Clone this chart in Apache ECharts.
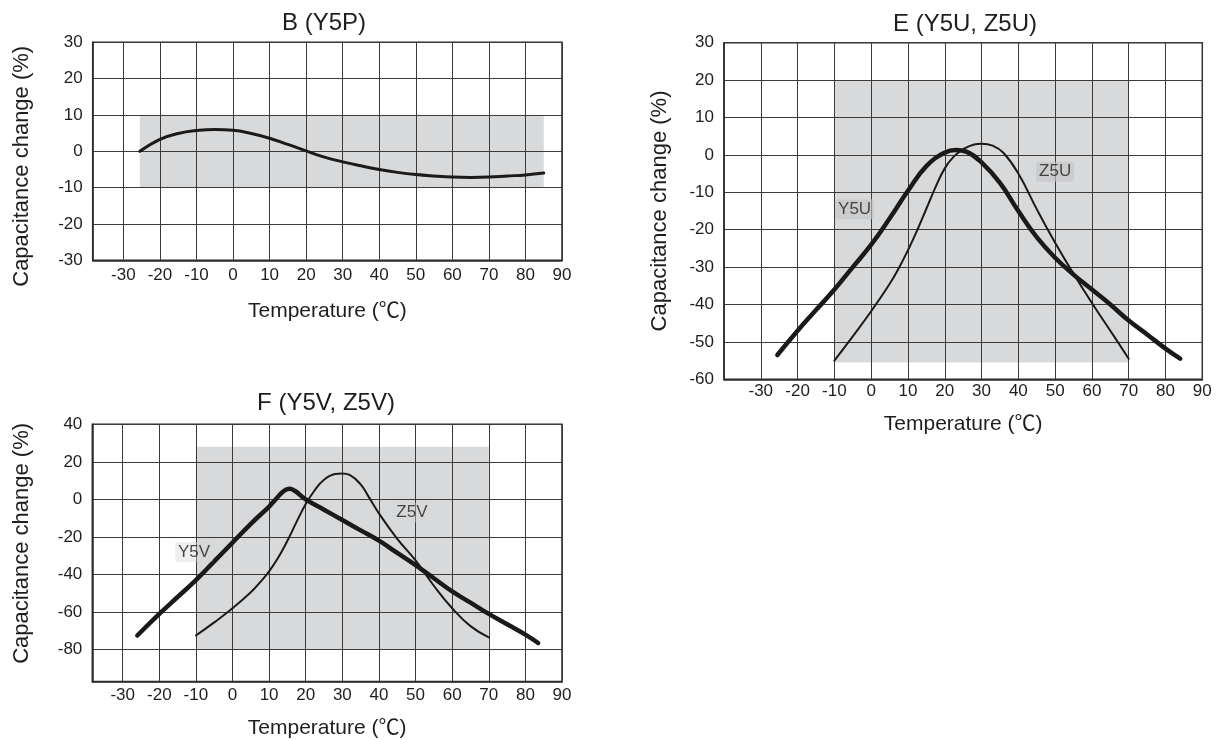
<!DOCTYPE html>
<html><head><meta charset="utf-8">
<script src="https://cdn.jsdelivr.net/npm/echarts@6/dist/echarts.min.js"></script>
<style>html,body{margin:0;padding:0;background:#fff}#c{width:1224px;height:740px}</style>
</head><body><div id="c"></div>
<script>
// ---- tick labels ----
const tempTicks = [-30,-20,-10,0,10,20,30,40,50,60,70,80,90];
const capTicksB = [-30,-20,-10,0,10,20,30];
const capTicksE = [-60,-50,-40,-30,-20,-10,0,10,20,30];
const capTicksF = [-80,-60,-40,-20,0,20,40];

// ---- B (Y5P) ----
const bTemp = [-25.5,-20,-15,-10,-5,0,5,10,15,20,25,30,35,40,45,50,55,60,65,70,75,80,85];
const bCap  = [0,3.3,4.9,5.7,6.0,5.8,4.9,3.6,1.9,0.1,-1.6,-2.9,-4.0,-5.0,-5.8,-6.4,-6.8,-7.1,-7.2,-7.1,-6.8,-6.5,-6.0];
const bandBTemp = [-25.5, 85];
const bandBCap  = [-10, 10];

// ---- E (Y5U, Z5U) ----
const eY5UTemp = [-25.5,-20,-15,-10,-5,0,5,10,15,20,23,26,30,35,40,45,50,55,60,65,70,75,80,84];
const eY5UCap  = [-53.5,-47,-41.5,-36,-30,-24,-17,-9.6,-3,0.6,1.3,0.8,-2,-7.5,-15,-22,-27.5,-32,-36,-40,-44.3,-48,-51.8,-54.5];
const eZ5UTemp = [-10,-5,0,5,7.5,10,12.5,15,17.5,20,22.5,25,28,30,33,36,40,45,50,55,60,65,70];
const eZ5UCap  = [-55,-48.5,-41.8,-34.5,-30.3,-25.5,-20.2,-14.4,-8.6,-3.6,-0.4,1.5,2.8,3,2.5,0.5,-5,-14.5,-23.5,-31.8,-39.6,-47,-54.5];
const bandETemp = [-10, 70];
const bandECap  = [-55.5, 20];
const eLabelNames = ['Y5U','Z5U'];
const eLabelTemp  = [-4.5, 50];
const eLabelCap   = [-14.5, -4.5];

// ---- F (Y5V, Z5V) ----
const fY5VTemp = [-26,-20,-15,-10,-5,0,5,10,12,14,15.5,17,20,25,30,35,40,45,50,55,60,65,70,75,80,83.5];
const fY5VCap  = [-72.5,-61,-52,-43,-33,-23,-13,-3.8,0.5,4.5,5.7,4.6,0,-5.5,-11,-16.5,-22,-28.5,-35,-42,-49,-55,-61,-66.5,-72,-76.5];
const fZ5VTemp = [-10,-5,0,5,7.5,10,12.5,15,17.5,20,22.5,25,28,30,32,35,37,40,45,50,55,60,65,70];
const fZ5VCap  = [-72.5,-65.5,-58,-49.5,-44.2,-38.3,-31,-22,-12,-2.5,5,10.5,13.5,13.8,13,8,2,-7.5,-21,-32.5,-46,-58,-67.5,-73.5];
const bandFTemp = [-10, 70];
const bandFCap  = [-80, 28];
const fLabelNames = ['Y5V','Z5V'];
const fLabelTemp  = [-10.5, 49];
const fLabelCap   = [-28, -7];

const FONT = '"Liberation Sans", Arial, "Noto Sans CJK SC", sans-serif';
const TXT = '#1e1e1e';
const zip = (a, b) => a.map((v, i) => [v, b[i]]);

function xAxis(gi, min, gap, margin) {
  return {
    type: 'value', gridIndex: gi, min: min, max: 90, z: 2,
    axisLine: {show: true, onZero: false, lineStyle: {color: '#2a2a2a', width: 1.5}},
    axisTick: {show: false, customValues: tempTicks},
    axisLabel: {customValues: tempTicks, margin: margin, fontSize: 17, color: TXT, fontFamily: FONT},
    splitLine: {show: true, lineStyle: {color: '#3a3a3a', width: 1}},
    name: 'Temperature (℃)', nameLocation: 'middle', nameGap: gap,
    nameTextStyle: {fontSize: 21, color: TXT, fontFamily: FONT}
  };
}
function yAxis(gi, min, max, ticks, gap, pad) {
  return {
    type: 'value', gridIndex: gi, min: min, max: max, z: 2,
    axisLine: {show: true, onZero: false, lineStyle: {color: '#2a2a2a', width: 1.5}},
    axisTick: {show: false, customValues: ticks},
    axisLabel: {customValues: ticks, margin: 10, fontSize: 17, color: TXT, fontFamily: FONT},
    splitLine: {show: true, lineStyle: {color: '#3a3a3a', width: 1}},
    name: 'Capacitance change (%)', nameLocation: 'middle', nameGap: gap,
    nameTextStyle: {fontSize: 22, color: TXT, fontFamily: FONT, padding: pad}
  };
}
function band(gi, tx, cy) {
  return {
    type: 'line', xAxisIndex: gi, yAxisIndex: gi, data: [], z: 1, silent: true,
    markArea: {silent: true, itemStyle: {color: '#d8d9db'},
      data: [[{coord: [tx[0], cy[0]]}, {coord: [tx[1], cy[1]]}]]}
  };
}
function curve(gi, t, c, w) {
  return {
    type: 'line', xAxisIndex: gi, yAxisIndex: gi, data: zip(t, c), z: 3,
    showSymbol: false, smooth: 0.45, lineStyle: {color: '#1a1a1a', width: w, cap: 'round'}
  };
}
function labels(gi, names, t, c, bg) {
  return {
    type: 'scatter', xAxisIndex: gi, yAxisIndex: gi, z: 4, symbolSize: 0, silent: true,
    data: names.map((n, i) => [t[i], c[i], n]),
    label: {show: true, position: 'inside', formatter: p => p.data[2], fontSize: 17, color: TXT,
      fontFamily: FONT, backgroundColor: bg, padding: [2, 3, 1, 3], borderRadius: 3}
  };
}

const chart = echarts.init(document.getElementById('c'), null, {renderer: 'canvas'});
chart.setOption({
  animation: false,
  backgroundColor: '#fff',
  textStyle: {fontFamily: FONT},
  title: [
    {text: 'B (Y5P)', left: 324, top: 11, textAlign: 'center', padding: 0, textStyle: {fontSize: 24, fontWeight: 'normal', color: TXT, fontFamily: FONT}},
    {text: 'E (Y5U, Z5U)', left: 965, top: 12, textAlign: 'center', padding: 0, textStyle: {fontSize: 24, fontWeight: 'normal', color: TXT, fontFamily: FONT}},
    {text: 'F (Y5V, Z5V)', left: 326, top: 391, textAlign: 'center', padding: 0, textStyle: {fontSize: 24, fontWeight: 'normal', color: TXT, fontFamily: FONT}}
  ],
  grid: [
    {left: 92.7, top: 42.3, width: 469.3, height: 218, show: true, borderColor: '#2a2a2a', borderWidth: 1.5, backgroundColor: 'transparent'},
    {left: 724, top: 42.7, width: 478.3, height: 336.6, show: true, borderColor: '#2a2a2a', borderWidth: 1.5, backgroundColor: 'transparent'},
    {left: 92.3, top: 424.3, width: 469.7, height: 257.4, show: true, borderColor: '#2a2a2a', borderWidth: 1.5, backgroundColor: 'transparent'}
  ],
  xAxis: [xAxis(0, -38.4, 40, 7), xAxis(1, -40, 34, 4), xAxis(2, -38.3, 36.5, 5)],
  yAxis: [
    yAxis(0, -30, 30, capTicksB, 60, [0, 30, 0, 0]),
    yAxis(1, -60, 30, capTicksE, 53, [0, 0, 0, 0]),
    yAxis(2, -97, 40, capTicksF, 59, [0, 0, 0, 19])
  ],
  series: [
    band(0, bandBTemp, bandBCap),
    curve(0, bTemp, bCap, 3),
    band(1, bandETemp, bandECap),
    curve(1, eY5UTemp, eY5UCap, 4.5),
    curve(1, eZ5UTemp, eZ5UCap, 2),
    labels(1, eLabelNames, eLabelTemp, eLabelCap, 'rgba(196,197,199,0.8)'),
    band(2, bandFTemp, bandFCap),
    curve(2, fY5VTemp, fY5VCap, 4.5),
    curve(2, fZ5VTemp, fZ5VCap, 2),
    labels(2, fLabelNames, fLabelTemp, fLabelCap, 'rgba(215,216,218,0.5)')
  ]
});
</script></body></html>
